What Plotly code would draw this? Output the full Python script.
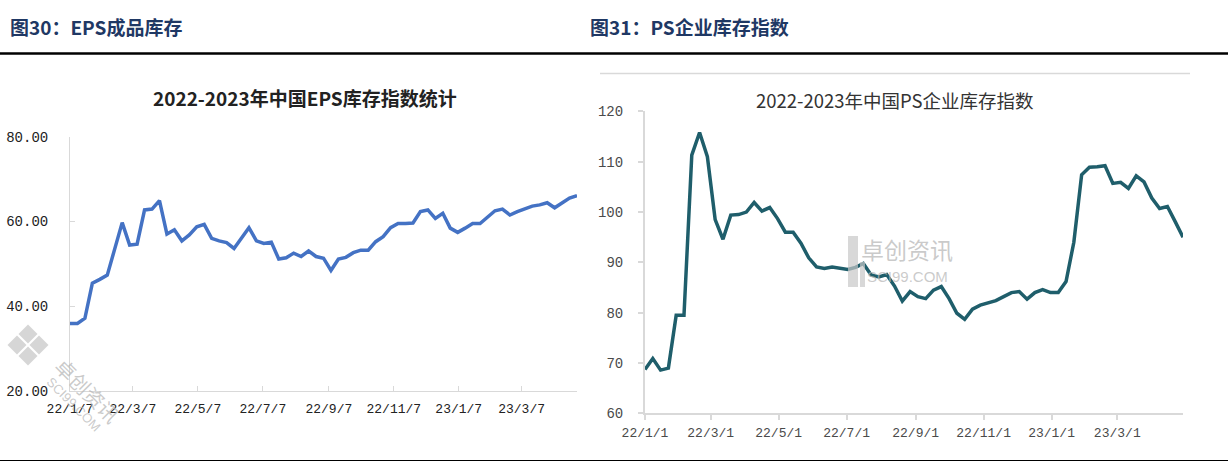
import plotly.graph_objects as go
import pandas as pd

W, H = 1228, 466

# ---------------- data ----------------
eps_start = "2022-01-07"
eps_values = [35.9, 35.9, 37.1, 45.4, 46.3, 47.3, 53.5, 59.7, 54.4, 54.6,
              62.7, 62.9, 64.9, 57.0, 58.0, 55.4, 56.8, 58.7, 59.3, 56.0,
              55.4, 55.0, 53.6, 56.0, 58.5, 55.4, 54.8, 55.1, 51.1, 51.4,
              52.5, 51.7, 53.0, 51.7, 51.3, 48.4, 51.1, 51.5, 52.6, 53.2,
              53.2, 55.2, 56.4, 58.5, 59.5, 59.5, 59.6, 62.3, 62.7, 60.7,
              61.9, 58.4, 57.4, 58.4, 59.5, 59.5, 61.0, 62.5, 62.9, 61.5,
              62.3, 62.9, 63.6, 63.9, 64.4, 63.2, 64.4, 65.5, 66.1]
eps_tick_dates = ["2022-01-07", "2022-03-07", "2022-05-07", "2022-07-07",
                  "2022-09-07", "2022-11-07", "2023-01-07", "2023-03-07"]
eps_tick_labels = ["22/1/7", "22/3/7", "22/5/7", "22/7/7",
                   "22/9/7", "22/11/7", "23/1/7", "23/3/7"]
eps_y_ticks = [20, 40, 60, 80]
eps_y_labels = ["20.00", "40.00", "60.00", "80.00"]

ps_start = "2022-01-01"
ps_values = [68.7, 70.9, 68.6, 69.0, 79.5, 79.5, 111.3, 115.8, 111.0, 98.5,
             94.6, 99.4, 99.5, 100.0, 101.9, 100.2, 100.9, 98.7, 96.0, 96.0,
             93.8, 90.9, 89.1, 88.8, 89.1, 88.8, 88.6, 89.0, 89.8, 87.5,
             87.1, 87.6, 85.3, 82.3, 84.2, 83.2, 82.8, 84.5, 85.2, 82.8,
             79.9, 78.7, 80.7, 81.5, 82.0, 82.4, 83.2, 84.0, 84.2, 82.7,
             84.0, 84.6, 84.0, 84.0, 86.2, 94.0, 107.4, 108.9, 109.0, 109.2,
             105.7, 105.9, 104.7, 107.2, 106.0, 102.8, 100.7, 101.1, 98.1, 95.0]
ps_tick_dates = ["2022-01-01", "2022-03-01", "2022-05-01", "2022-07-01",
                 "2022-09-01", "2022-11-01", "2023-01-01", "2023-03-01"]
ps_tick_labels = ["22/1/1", "22/3/1", "22/5/1", "22/7/1",
                  "22/9/1", "22/11/1", "23/1/1", "23/3/1"]
ps_y_ticks = [60, 70, 80, 90, 100, 110, 120]

eps_dates = pd.date_range(eps_start, periods=len(eps_values), freq="7D")
ps_dates = pd.date_range(ps_start, periods=len(ps_values), freq="7D")


def fx(x):
    return x / W


def fy(y):
    return 1 - y / H


MONO = "Liberation Mono"
CJK = "Noto Sans CJK SC"
AX = "#D9D9D9"

fig = go.Figure()
fig.add_trace(go.Scatter(x=eps_dates, y=eps_values, mode="lines",
                         line=dict(color="#4472C4", width=3.5),
                         xaxis="x", yaxis="y", showlegend=False))
fig.add_trace(go.Scatter(x=ps_dates, y=ps_values, mode="lines",
                         line=dict(color="#1F5E6B", width=3.5),
                         xaxis="x2", yaxis="y2", showlegend=False))

fig.update_layout(
    template="none",
    width=W, height=H, autosize=False,
    margin=dict(l=0, r=0, t=0, b=0, pad=0),
    paper_bgcolor="white", plot_bgcolor="white",
    showlegend=False,
    xaxis=dict(domain=[fx(70), fx(577)], anchor="y", type="date",
               range=[eps_dates[0], eps_dates[-1]], automargin=False,
               showline=True, linecolor=AX, linewidth=1,
               ticks="inside", ticklen=5, tickcolor=AX,
               tickvals=eps_tick_dates, ticktext=eps_tick_labels,
               tickfont=dict(family=MONO, size=13, color="#222222"),
               ticklabelstandoff=6,
               showgrid=False, zeroline=False),
    yaxis=dict(domain=[fy(390.7), fy(136.7)], anchor="x",
               range=[20, 80], automargin=False,
               showline=True, linecolor=AX, linewidth=1,
               ticks="inside", ticklen=5, tickcolor=AX,
               tickvals=eps_y_ticks, ticktext=eps_y_labels,
               tickfont=dict(family=MONO, size=14, color="#222222"),
               ticklabelstandoff=18,
               showgrid=False, zeroline=False),
    xaxis2=dict(domain=[fx(645), fx(1183)], anchor="y2", type="date",
                range=[ps_dates[0], ps_dates[-1]], automargin=False,
                showline=True, linecolor=AX, linewidth=2,
                ticks="outside", ticklen=5, tickcolor=AX, tickwidth=2,
                tickvals=ps_tick_dates, ticktext=ps_tick_labels,
                tickfont=dict(family=MONO, size=13, color="#4a4a4a"),
                ticklabelstandoff=1,
                showgrid=False, zeroline=False),
    yaxis2=dict(domain=[fy(413.4), fy(111.4)], anchor="x2",
                range=[60, 120], automargin=False,
                showline=True, linecolor=AX, linewidth=2,
                ticks="outside", ticklen=5, tickcolor=AX, tickwidth=2,
                tickvals=ps_y_ticks,
                tickfont=dict(family=MONO, size=14, color="#4a4a4a"),
                ticklabelstandoff=12,
                showgrid=False, zeroline=False),
)


def note(text, x, y, size, color, family=CJK, xanchor="center", angle=0):
    return dict(text=text, x=fx(x), y=fy(y), xref="paper", yref="paper",
                xanchor=xanchor, yanchor="middle", showarrow=False,
                textangle=angle, font=dict(family=family, size=size, color=color))


WM = "rgba(185,185,185,0.75)"
ann = [
    note("<b>图30：EPS成品库存</b>", 8, 27, 19, "#1F3864", xanchor="left"),
    note("<b>图31：PS企业库存指数</b>", 588, 27, 19, "#1F3864", xanchor="left"),
    note("<b>2022-2023年中国EPS库存指数统计</b>", 305, 97, 19, "#222222"),
    note("2022-2023年中国PS企业库存指数", 895, 100, 18.5, "#333333"),
    note("卓创资讯", 907, 249, 23, WM),
    note("SCI99.COM", 907, 276, 15, WM, family="Liberation Sans"),
    note("卓创资讯", 88, 390, 20, WM, angle=45),
    note("SCI99.COM", 74, 404, 13, WM, family="Liberation Sans", angle=45),
]
fig.update_layout(annotations=ann)

shapes = []
shapes.append(dict(type="line", xref="paper", yref="paper",
                   x0=0, x1=1, y0=fy(53.5), y1=fy(53.5),
                   line=dict(color="black", width=2.5)))
shapes.append(dict(type="line", xref="paper", yref="paper",
                   x0=0, x1=1, y0=fy(460.5), y1=fy(460.5),
                   line=dict(color="black", width=1.2)))
shapes.append(dict(type="line", xref="paper", yref="paper",
                   x0=fx(600), x1=fx(1190), y0=fy(73.5), y1=fy(73.5),
                   line=dict(color=AX, width=1.5)))
# right watermark logo block
shapes.append(dict(type="rect", xref="paper", yref="paper",
                   x0=fx(848), x1=fx(858), y0=fy(287), y1=fy(236),
                   fillcolor="rgba(200,200,200,0.7)", line=dict(width=0)))
shapes.append(dict(type="rect", xref="paper", yref="paper",
                   x0=fx(860), x1=fx(865), y0=fy(287), y1=fy(262),
                   fillcolor="rgba(200,200,200,0.7)", line=dict(width=0)))


# left watermark logo: diamond of four squares
def diamond(cx, cy, r):
    pts = [(cx, cy - r), (cx + r, cy), (cx, cy + r), (cx - r, cy)]
    d = "M " + " L ".join(f"{fx(a)},{fy(b)}" for a, b in pts) + " Z"
    return dict(type="path", xref="paper", yref="paper", path=d,
                fillcolor="rgba(200,200,200,0.75)", line=dict(width=0))


for cx, cy in [(28, 334), (17, 345), (39, 345), (28, 356)]:
    shapes.append(diamond(cx, cy, 9.5))
fig.update_layout(shapes=shapes)

fig.write_html("out.html", config={"displayModeBar": False},
               post_script="document.body.style.margin='0';document.body.style.overflow='hidden';")
